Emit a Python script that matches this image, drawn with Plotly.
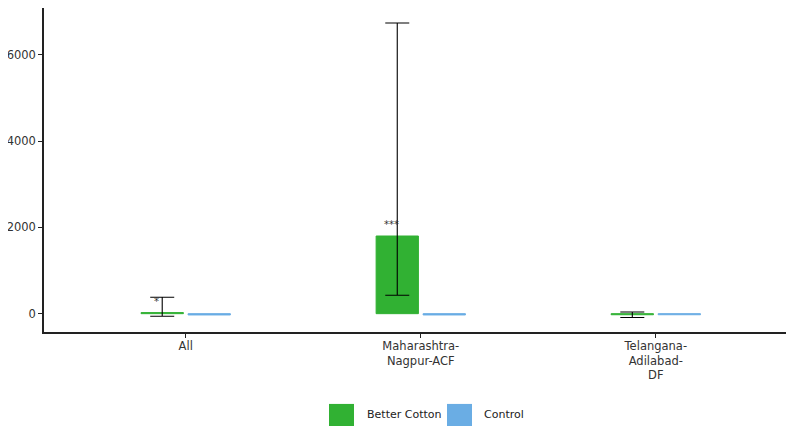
import plotly.graph_objects as go

categories = ["All", "Maharashtra-<br>Nagpur-ACF", "Telangana-<br>Adilabad-<br>DF"]
bc_values = [25, 1800, -25]
bc_lower = [-60, 426, -90]
bc_upper = [380, 6737, 40]
ctrl_values = [-30, -30, -25]
stars = ["*", "***", ""]
star_y = [290, 2070, 0]
series_names = ["Better Cotton", "Control"]

green = "#31B133"
blue = "#6AADE4"

fig = go.Figure()
fig.add_trace(go.Bar(
    x=categories, y=bc_values, name=series_names[0], showlegend=False,
    marker=dict(color=green, line=dict(color=green, width=1)),
    error_y=dict(type="data", symmetric=False,
                 array=[u - v for u, v in zip(bc_upper, bc_values)],
                 arrayminus=[v - l for v, l in zip(bc_values, bc_lower)],
                 color="black", thickness=1.1, width=12),
))
fig.add_trace(go.Bar(
    x=categories, y=ctrl_values, name=series_names[1], showlegend=False,
    marker=dict(color=blue, line=dict(color=blue, width=1)),
))

for i, (s, sy) in enumerate(zip(stars, star_y)):
    if s:
        fig.add_annotation(x=i, y=sy, text=s, showarrow=False, xshift=-29,
                           font=dict(family="DejaVu Sans", size=10, color="#333333"))

# legend (custom, larger swatches)
legend_items = [(series_names[0], green, 0.380, 0.4133, 0.428),
                (series_names[1], blue, 0.5373, 0.5707, 0.584)]
for name, col, x0, x1, tx in legend_items:
    fig.add_shape(type="rect", xref="paper", yref="paper", x0=x0, x1=x1, y0=-0.30, y1=-0.222,
                  fillcolor=col, line=dict(width=0))
    fig.add_annotation(xref="paper", yref="paper", x=tx, y=-0.256, text=name, showarrow=False,
                       xanchor="left", yanchor="middle",
                       font=dict(family="DejaVu Sans", size=11, color="#222222"))

fig.update_layout(
    width=786, height=418,
    margin=dict(l=36, r=0, t=0, b=94),
    plot_bgcolor="white", paper_bgcolor="white",
    barmode="group", bargap=0.6, bargroupgap=0.1,
    font=dict(family="DejaVu Sans", size=11.5, color="#333333"),
    showlegend=False,
)
fig.update_xaxes(range=[-0.603, 2.588], showline=True, linecolor="#222222", linewidth=1.5,
                 ticks="outside", ticklen=4, tickcolor="#222222", showgrid=False,
                 automargin=False, ticklabelstandoff=-2,
                 tickfont=dict(size=11.5, color="#333333"))
fig.update_yaxes(range=[-425, 7085], tickvals=[0, 2000, 4000, 6000], showline=True,
                 linecolor="#222222", linewidth=1.5, ticks="outside", ticklen=4,
                 tickcolor="#222222", showgrid=False, zeroline=False,
                 automargin=False, tickfont=dict(size=11.5, color="#333333"))

fig.write_html("out.html")
